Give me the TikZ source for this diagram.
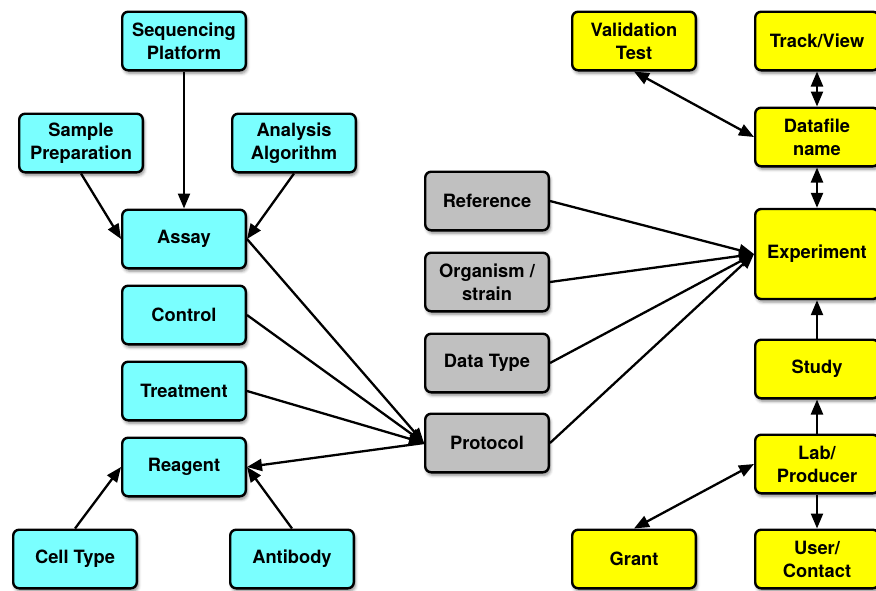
\documentclass[tikz,border=0pt]{standalone}
\usepackage{fontspec}
\setmainfont{TeX Gyre Heros}
\usetikzlibrary{arrows.meta,shadows.blur}
\definecolor{boxcyan}{RGB}{122,255,255}
\definecolor{boxgray}{RGB}{192,192,192}
\definecolor{boxyellow}{RGB}{255,255,0}
\begin{document}
\begin{tikzpicture}[x=1pt,y=-1pt,
  box/.style={draw=black, line width=2.4pt, rounded corners=6pt,
    minimum width=123.6pt, minimum height=58.6pt, inner sep=0pt, align=center,
    font=\fontsize{18.3}{23}\selectfont\bfseries,
    blur shadow={shadow xshift=1.5pt, shadow yshift=-3pt,
      shadow blur radius=3pt, shadow opacity=45}},
  cyanbox/.style={box, fill=boxcyan},
  graybox/.style={box, fill=boxgray},
  yellowbox/.style={box, fill=boxyellow},
  tip/.tip={Triangle[length=15pt,width=12pt]},
  link/.style={line width=2.3pt, -tip},
  twoway/.style={line width=2.3pt, tip-tip},
]
\useasboundingbox (0,0) rectangle (876,590);
\clip (0,0) rectangle (876,590);

% assay inputs and sample side
\node[cyanbox] (seq)     at (184,41)  {Sequencing\\Platform};
\node[cyanbox] (sample)  at (81,143)  {Sample\\Preparation};
\node[cyanbox] (algo)    at (294,143) {Analysis\\Algorithm};
\node[cyanbox] (assay)   at (184,239) {Assay};
\node[cyanbox] (control) at (184,315) {Control};
\node[cyanbox] (treat)   at (184,391) {Treatment};
\node[cyanbox] (reagent) at (184,467) {Reagent};
\node[cyanbox] (cell)    at (75,559)  {Cell Type};
\node[cyanbox] (anti)    at (292,559) {Antibody};

% experiment descriptors
\node[graybox] (ref)   at (487,201) {Reference};
\node[graybox] (org)   at (487,282) {Organism /\\strain};
\node[graybox] (dtype) at (487,363) {Data Type};
\node[graybox] (prot)  at (487,443) {Protocol};

% experiment and administrative side
\node[yellowbox] (valid) at (634,41)  {Validation\\Test};
\node[yellowbox] (track) at (817,41)  {Track/View};
\node[yellowbox] (dfile) at (817,137) {Datafile\\name};
\node[yellowbox, minimum height=90pt] (exp) at (817,254) {Experiment};
\node[yellowbox] (study) at (817,369) {Study};
\node[yellowbox] (lab)   at (817,464) {Lab/\\Producer};
\node[yellowbox] (grant) at (634,559) {Grant};
\node[yellowbox] (user)  at (817,559) {User/\\Contact};

% connectors
\draw[link] (seq) -- (assay);
\draw[link] (sample.south) -- (assay.west);
\draw[link] (algo.south) -- (assay.east);
\draw[link] (assay.east) -- (prot.west);
\draw[link] (control.east) -- (prot.west);
\draw[link] (treat.east) -- (prot.west);
\draw[link] (prot.west) -- (reagent.east);
\draw[link] (cell.north) -- (reagent.west);
\draw[link] (anti.north) -- (reagent.east);

\draw[link] (ref.east) -- (exp.west);
\draw[link] (org.east) -- (exp.west);
\draw[link] (dtype.east) -- (exp.west);
\draw[link] (prot.east) -- (exp.west);

\draw[twoway] (valid.south) -- (dfile.west);
\draw[twoway] (track) -- (dfile);
\draw[twoway] (dfile) -- (exp);
\draw[link] (study) -- (exp);
\draw[link] (lab) -- (study);
\draw[twoway] (lab.west) -- (grant.north);
\draw[link] (lab) -- (user);
\end{tikzpicture}
\end{document}
